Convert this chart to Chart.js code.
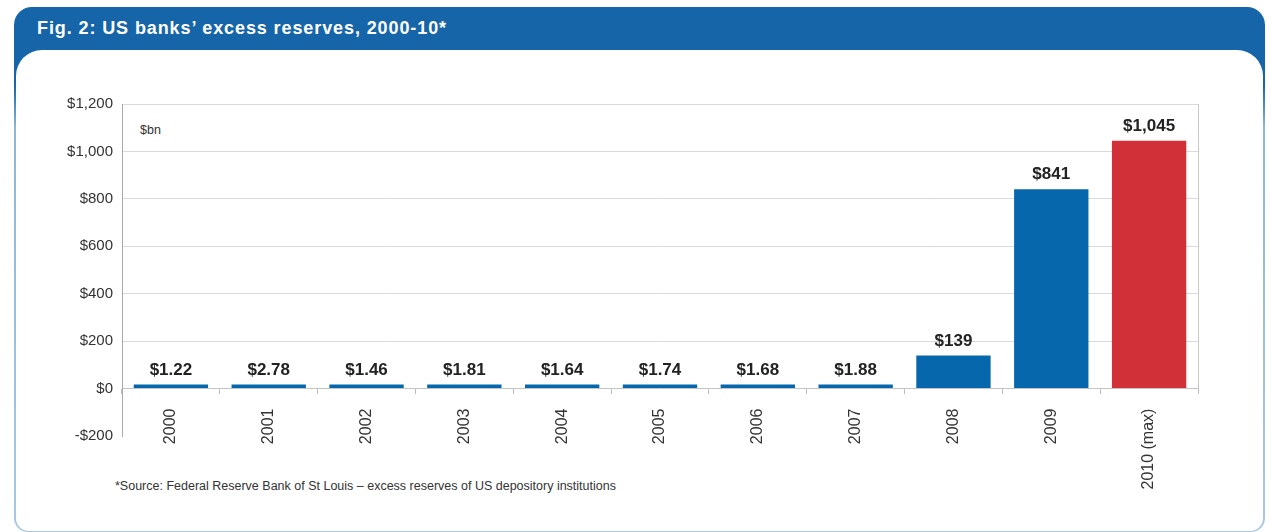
<!DOCTYPE html>
<html>
<head>
<meta charset="utf-8">
<title>US banks' excess reserves</title>
<script src="https://cdn.jsdelivr.net/npm/chart.js@4/dist/chart.umd.min.js"></script>
<style>
  html, body { margin: 0; padding: 0; background: #fff; }
  body { width: 1271px; height: 532px; position: relative; overflow: hidden; font-family: "Liberation Sans", Arial, sans-serif; }
  .frame {
    position: absolute; left: 14px; top: 7px; width: 1251px; height: 525px;
    border-radius: 18px 18px 14px 14px;
    background: linear-gradient(to bottom, #1565a8 0, #1565a8 78px, #8db6d9 120px, #a8c8e3 100%);
  }
  .frame h1 {
    margin: 0; position: absolute; left: 23px; top: 11px;
    color: #fff; font-size: 18px; font-weight: bold; letter-spacing: 0.9px;
  }
  .sheet {
    position: absolute; left: 2px; top: 43px; right: 2px; bottom: 1px;
    background: #fff; border-radius: 26px 26px 13px 13px;
  }
  .unit { position: absolute; left: 140px; top: 123px; font-size: 12.5px; color: #333; }
  .note { position: absolute; left: 115px; top: 479px; font-size: 12.5px; color: #333; }
  #chart { position: absolute; left: 0; top: 0; }
</style>
</head>
<body>
<div class="frame">
  <h1>Fig. 2: US banks’ excess reserves, 2000-10*</h1>
  <div class="sheet"></div>
</div>
<div class="unit">$bn</div>
<div class="note">*Source: Federal Reserve Bank of St Louis – excess reserves of US depository institutions</div>
<canvas id="chart" width="1271" height="532"></canvas>

<script>
// excess reserves, $bn
const years = ['2000', '2001', '2002', '2003', '2004', '2005', '2006', '2007', '2008', '2009', '2010 (max)'];
const reserves = [1.22, 2.78, 1.46, 1.81, 1.64, 1.74, 1.68, 1.88, 139, 841, 1045];
const yTicks = [-200, 0, 200, 400, 600, 800, 1000, 1200];

const BLUE = '#0767ac';
const RED = '#d23038';

const money = v => {
  const a = Math.abs(v);
  const s = Number.isInteger(a) ? a.toLocaleString('en-US') : a.toFixed(2);
  return (v < 0 ? '-$' : '$') + s;
};

// box line on the right side, top gridline down to zero
const frameLine = {
  id: 'frameLine',
  beforeDatasetsDraw(chart) {
    const { ctx, chartArea, scales } = chart;
    ctx.save();
    ctx.strokeStyle = '#c9c9c9';
    ctx.lineWidth = 1;
    ctx.beginPath();
    ctx.moveTo(Math.round(chartArea.right) + 0.5, scales.y.getPixelForValue(1200));
    ctx.lineTo(Math.round(chartArea.right) + 0.5, scales.y.getPixelForValue(0));
    ctx.stroke();
    ctx.restore();
  }
};

// value printed above each bar
const barValues = {
  id: 'barValues',
  afterDatasetsDraw(chart) {
    const { ctx } = chart;
    const meta = chart.getDatasetMeta(0);
    ctx.save();
    ctx.font = 'bold 17px "Liberation Sans", Arial, sans-serif';
    ctx.fillStyle = '#222';
    ctx.textAlign = 'center';
    ctx.textBaseline = 'alphabetic';
    meta.data.forEach((bar, i) => {
      ctx.fillText(money(reserves[i]), bar.x, bar.y - 10);
    });
    ctx.restore();
  }
};

new Chart(document.getElementById('chart'), {
  type: 'bar',
  data: {
    labels: years,
    datasets: [{
      data: reserves,
      backgroundColor: years.map((y, i) => i === years.length - 1 ? RED : BLUE),
      borderWidth: 0,
      minBarLength: 4,
      categoryPercentage: 1,
      barPercentage: 0.76
    }]
  },
  options: {
    responsive: false,
    animation: false,
    events: [],
    layout: { padding: { left: 66, top: 104, right: 73, bottom: 96 } },
    plugins: { legend: { display: false }, tooltip: { enabled: false } },
    scales: {
      x: {
        position: { y: 0 },
        afterFit: s => { s.height = 0; },
        grid: { offset: true, drawOnChartArea: false, drawTicks: true, tickLength: 5, color: '#bdbdbd' },
        border: { display: true, color: '#c4c4c4' },
        ticks: {
          autoSkip: false, minRotation: 90, maxRotation: 90, padding: 15,
          color: '#333', font: { family: '"Liberation Sans", Arial, sans-serif', size: 16 }
        }
      },
      y: {
        min: -200, max: 1200,
        afterFit: s => { s.width = 56; },
        afterBuildTicks: s => { s.ticks = yTicks.map(v => ({ value: v })); },
        grid: {
          drawTicks: false,
          color: ctx => ctx.tick && ctx.tick.value === -200 ? 'rgba(0,0,0,0)' : '#dadada'
        },
        border: { color: '#a9a9a9' },
        ticks: {
          padding: 9, color: '#333',
          font: { family: '"Liberation Sans", Arial, sans-serif', size: 15 },
          callback: v => money(v)
        }
      }
    }
  },
  plugins: [frameLine, barValues]
});
</script>
</body>
</html>
